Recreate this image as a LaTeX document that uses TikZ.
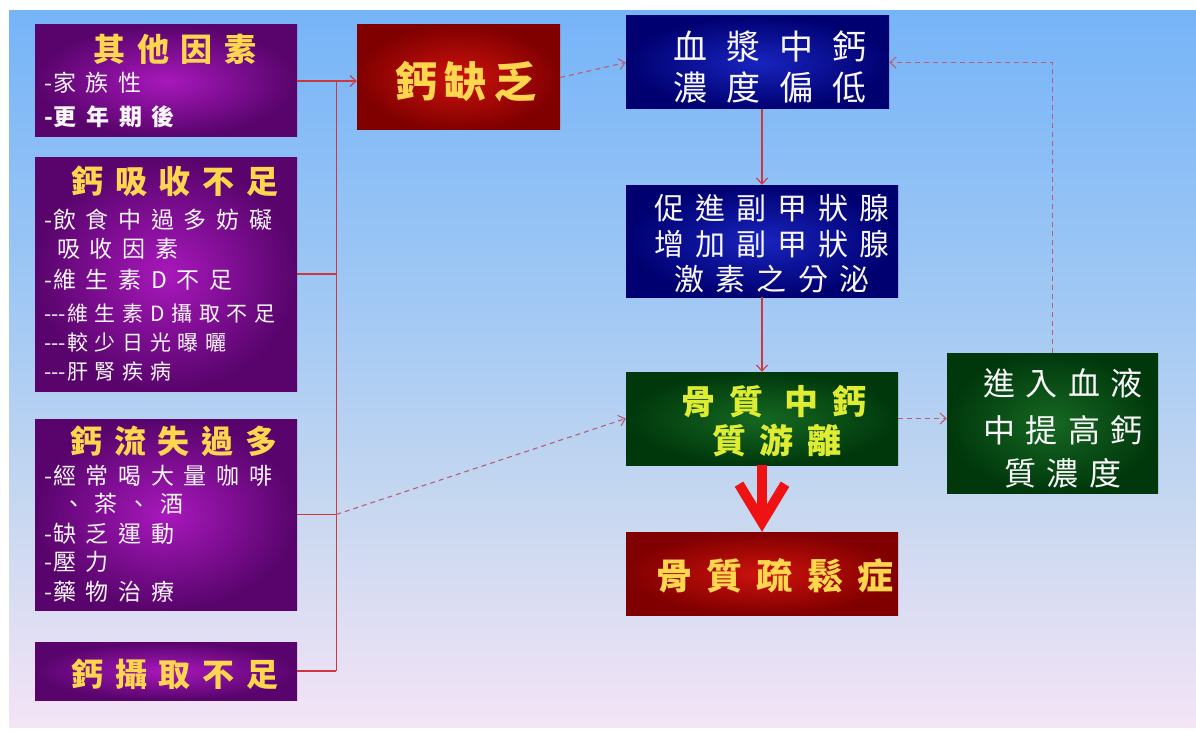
\documentclass[tikz,border=0pt]{standalone}
\usepackage{fontspec}
\setmainfont{Noto Sans CJK TC}
\usetikzlibrary{arrows.meta}
\definecolor{bgA}{RGB}{118,180,248}
\definecolor{bgB}{RGB}{160,200,244}
\definecolor{bgC}{RGB}{200,216,240}
\definecolor{bgD}{RGB}{244,228,246}
\definecolor{purIn}{RGB}{168,24,188}
\definecolor{purOut}{RGB}{88,4,108}
\definecolor{redIn}{RGB}{205,18,12}
\definecolor{redOut}{RGB}{128,0,0}
\definecolor{bluIn}{RGB}{24,36,190}
\definecolor{bluOut}{RGB}{0,0,112}
\definecolor{grnIn}{RGB}{22,104,34}
\definecolor{grnOut}{RGB}{0,56,12}
\definecolor{gold}{RGB}{255,214,78}
\definecolor{wht}{RGB}{248,246,248}
\definecolor{ylw}{RGB}{222,236,52}
\definecolor{lnRed}{RGB}{205,55,62}
\definecolor{lnDash}{RGB}{185,95,115}
\definecolor{bigRed}{RGB}{238,18,18}
\pgfdeclareverticalshading{bgshade}{100bp}{color(0bp)=(bgD); color(25bp)=(bgD); color(40bp)=(bgC); color(55bp)=(bgB); color(75bp)=(bgA); color(100bp)=(bgA)}
\newcommand{\fs}[2]{\fontsize{#1}{#1}\selectfont\addfontfeature{LetterSpace=#2}}
\newcommand{\hy}{{\addfontfeature{LetterSpace=0}-}\kern1pt}
\newcommand{\hyy}{{\addfontfeature{LetterSpace=0}-{}-{}-}\kern1pt}
\tikzset{
  box/.style={inner sep=0pt, minimum width=#1},
  purbox/.style={inner color=purIn, outer color=purOut},
  redbox/.style={inner color=redIn, outer color=redOut},
  blubox/.style={inner color=bluIn, outer color=bluOut},
  grnbox/.style={inner color=grnIn, outer color=grnOut},
  ttl/.style={inner sep=0pt, text=gold, font=\bfseries\fs{32}{36}},
  bul/.style={inner sep=0pt, anchor=west, text=wht, font=\fs{23}{42}},
  sbul/.style={inner sep=0pt, anchor=west, text=wht, font=\fs{21}{32}},
  conn/.style={draw=lnRed, line width=1.1pt},
  dconn/.style={draw=lnDash, line width=1.1pt, dash pattern=on 5pt off 4pt},
  tip/.style={-{Straight Barb[length=6pt,width=11pt]}},
  big/.style={draw=bigRed, line width=10pt, -{Straight Barb[length=38pt,width=46pt,line width=10pt]}}
}
\begin{document}
\begin{tikzpicture}[x=1pt,y=-1pt]
\useasboundingbox (0,0) rectangle (1196,733);
\path[shading=bgshade] (9,11) rectangle (1196,727);
% boxes
\node[box=262pt, minimum height=112pt, purbox] (f1) at (166,81) {};
\node[box=262pt, minimum height=234pt, purbox] (f2) at (166,274) {};
\node[box=262pt, minimum height=191pt, purbox] (f3) at (166,514.5) {};
\node[box=262pt, minimum height=58pt, purbox] (f4) at (166,671) {};
\node[box=203pt, minimum height=105pt, redbox] (def) at (458.5,77.5) {};
\node[box=263pt, minimum height=93pt, blubox] (plasma) at (757.5,62.5) {};
\node[box=272pt, minimum height=112pt, blubox] (pth) at (762,241) {};
\node[box=272pt, minimum height=93pt, grnbox] (release) at (762,418.5) {};
\node[box=272pt, minimum height=83pt, redbox] (osteo) at (762,573.5) {};
\node[box=211pt, minimum height=140pt, grnbox] (blood) at (1052.5,423) {};
% texts left column
\node[ttl] (f1t) at (175,49) {其他因素};
\node[bul] (f1a) at (44,83) {\hy 家族性};
\node[bul, font=\bfseries\fs{23}{42}] (f1b) at (44,117) {\hy 更年期後};
\node[ttl] (f2t) at (175,181) {鈣吸收不足};
\node[bul] (f2a) at (44,220) {\hy 飲食中過多妨礙};
\node[bul] (f2b) at (57,249) {吸收因素};
\node[bul] (f2c) at (44,280) {\hy 維生素D不足};
\node[sbul] (f2d) at (44,314) {\hyy 維生素D攝取不足};
\node[sbul] (f2e) at (44,343) {\hyy 較少日光曝曬};
\node[sbul] (f2f) at (44,372) {\hyy 肝腎疾病};
\node[ttl] (f3t) at (174,441) {鈣流失過多};
\node[bul] (f3a) at (44,476) {\hy 經常喝大量咖啡};
\node[bul] (f3b) at (62,504) {、茶、酒};
\node[bul] (f3c) at (44,534) {\hy 缺乏運動};
\node[bul] (f3d) at (44,562) {\hy 壓力};
\node[bul] (f3e) at (44,592) {\hy 藥物治療};
\node[ttl] (f4t) at (175,674) {鈣攝取不足};
% texts right part
\node[ttl, font=\bfseries\fs{42}{18}] (deft) at (466,82) {鈣缺乏};
\node[inner sep=0pt, text=wht, font=\fs{34}{55}] (pl1) at (770,46) {血漿中鈣};
\node[inner sep=0pt, text=wht, font=\fs{34}{55}] (pl2) at (770,88) {濃度偏低};
\node[inner sep=0pt, text=wht, font=\fs{30}{37}] (pt1) at (772,208) {促進副甲狀腺};
\node[inner sep=0pt, text=wht, font=\fs{30}{37}] (pt2) at (772,244) {增加副甲狀腺};
\node[inner sep=0pt, text=wht, font=\fs{30}{37}] (pt3) at (772,279) {激素之分泌};
\node[inner sep=0pt, text=ylw, font=\bfseries\fs{34}{40}] (rl1) at (774,402) {骨質 中鈣};
\node[inner sep=0pt, text=ylw, font=\bfseries\fs{34}{40}] (rl2) at (777,440) {質游離};
\node[ttl, font=\bfseries\fs{36}{39}] (ost) at (775,576) {骨質疏鬆症};
\node[inner sep=0pt, text=wht, font=\fs{32}{33}] (bl1) at (1063,383) {進入血液};
\node[inner sep=0pt, text=wht, font=\fs{32}{33}] (bl2) at (1063,430) {中提高鈣};
\node[inner sep=0pt, text=wht, font=\fs{32}{33}] (bl3) at (1063,473) {質濃度};
% connectors
\coordinate (busT) at ([xshift=39pt]f1.east);
\coordinate (busB) at (busT |- f4.east);
\draw[conn] (busT) -- (busB);
\draw[conn] (f2.east) -- (f2.east -| busT);
\draw[conn] (f3.east) -- (f3.east -| busT);
\draw[conn] (f4.east) -- (busB);
\draw[conn, tip] (f1.east) -- (f1.east -| def.west);
\draw[dconn, tip] (f3.east -| busT) -- (release.west);
\draw[dconn, tip] (def.east) -- (plasma.west);
\draw[conn, tip] (plasma.south -| pth.north) -- (pth.north);
\draw[conn, tip] (pth.south) -- (release.north);
\draw[dconn, tip] (release.east) -- (release.east -| blood.west);
\draw[dconn, tip] (blood.north) |- (plasma.east);
\draw[big] (release.south) -- (osteo.north);
\end{tikzpicture}
\end{document}
